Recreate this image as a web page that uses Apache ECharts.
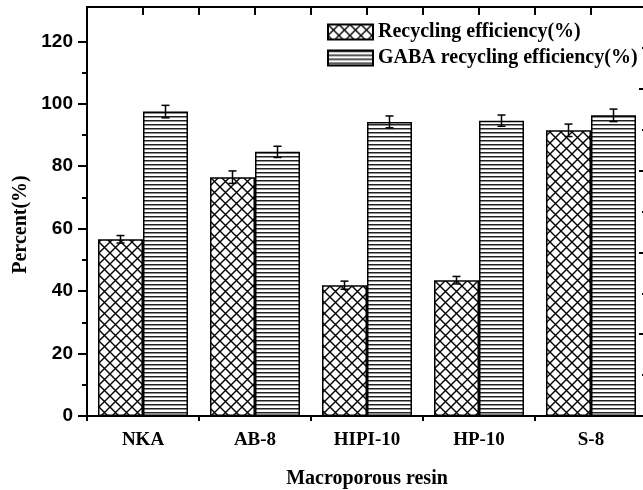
<!DOCTYPE html>
<html>
<head>
<meta charset="utf-8">
<script src="https://cdn.jsdelivr.net/npm/echarts@6/dist/echarts.min.js"></script>
<style>
html, body { margin: 0; padding: 0; background: #fff; }
#chart { width: 643px; height: 490px; }
</style>
</head>
<body>
<div id="chart"></div>
<script>
var resins = ['NKA', 'AB-8', 'HIPI-10', 'HP-10', 'S-8']
var recycling = [56.6, 76.5, 41.9, 43.5, 91.5]
var recyclingErr = [1.2, 2.0, 1.3, 1.2, 2.0]
var gaba = [97.5, 84.6, 94.2, 94.6, 96.3]
var gabaErr = [2.0, 1.8, 1.9, 1.8, 2.0]
var yTicks = [0, 20, 40, 60, 80, 100, 120]
var yMinorTicks = [10, 30, 50, 70, 90, 110]
// top frame has a tick every half category
var halfSlots = ['h1', 'h2', 'h3', 'h4', 'h5', 'h6', 'h7', 'h8', 'h9', 'h10']

var BAR_W = 45
var serif = '"Liberation Serif", "Times New Roman", serif'
var sans = '"Liberation Sans", Arial, sans-serif'

// fill textures for the two series
function crossPattern() {
    var c = document.createElement('canvas')
    c.width = 11; c.height = 11
    var g = c.getContext('2d')
    g.fillStyle = '#fff'
    g.fillRect(0, 0, 11, 11)
    g.strokeStyle = '#000'
    g.lineWidth = 1.4
    g.beginPath()
    g.moveTo(-1, -1); g.lineTo(12, 12)
    g.moveTo(12, -1); g.lineTo(-1, 12)
    g.stroke()
    return c
}
function linePattern() {
    var c = document.createElement('canvas')
    c.width = 4; c.height = 4
    var g = c.getContext('2d')
    g.fillStyle = '#fff'
    g.fillRect(0, 0, 4, 4)
    g.fillStyle = '#222'
    g.fillRect(0, 0, 4, 1.5)
    return c
}

function errorBars(values, errs, shift) {
    return {
        type: 'custom',
        xAxisIndex: 0,
        yAxisIndex: 0,
        z: 10,
        silent: true,
        encode: {x: 0, y: 1},
        data: values.map(function (v, i) { return [i, v, errs[i]] }),
        renderItem: function (params, api) {
            var i = api.value(0), v = api.value(1), e = api.value(2)
            var hi = api.coord([i, v + e])
            var lo = api.coord([i, v - e])
            var x = hi[0] + shift
            var cap = 4
            var st = {stroke: '#000', lineWidth: 1.5}
            return {
                type: 'group',
                children: [
                    {type: 'line', shape: {x1: x, y1: hi[1], x2: x, y2: lo[1]}, style: st},
                    {type: 'line', shape: {x1: x - cap, y1: hi[1], x2: x + cap, y2: hi[1]}, style: st},
                    {type: 'line', shape: {x1: x - cap, y1: lo[1], x2: x + cap, y2: lo[1]}, style: st}
                ]
            }
        }
    }
}

var chart = echarts.init(document.getElementById('chart'))
var option = {
    backgroundColor: '#fff',
    animation: false,
    grid: {left: 87, right: -4, top: 7, bottom: 74, outerBoundsMode: 'none'},
    legend: {
        orient: 'vertical',
        left: 327,
        top: 22,
        padding: 0,
        icon: 'rect',
        itemWidth: 45,
        itemHeight: 15,
        itemGap: 6,
        selectedMode: false,
        data: ['Recycling efficiency(%)', 'GABA recycling efficiency(%)'],
        textStyle: {fontFamily: serif, fontWeight: 'bold', fontSize: 20, color: '#000', lineHeight: 20}
    },
    xAxis: [{
        type: 'category',
        position: 'bottom',
        data: resins,
        name: 'Macroporous resin',
        nameLocation: 'middle',
        nameGap: 53,
        nameTextStyle: {fontFamily: serif, fontWeight: 'bold', fontSize: 20, color: '#000'},
        axisLine: {onZero: false, lineStyle: {color: '#000', width: 2}},
        axisTick: {alignWithLabel: true, length: 8, lineStyle: {color: '#000', width: 2}},
        axisLabel: {fontFamily: serif, fontWeight: 'bold', fontSize: 19, color: '#000', margin: 15}
    }, {
        type: 'category',
        position: 'bottom',
        data: resins,
        axisLine: {show: false, onZero: false},
        axisTick: {show: true, length: 5, lineStyle: {color: '#000', width: 2}},
        axisLabel: {show: false}
    }, {
        type: 'category',
        position: 'top',
        data: halfSlots,
        axisLine: {show: true, onZero: false, lineStyle: {color: '#000', width: 2}},
        axisTick: {show: true, inside: true, length: 8, lineStyle: {color: '#000', width: 2}},
        axisLabel: {show: false}
    }],
    yAxis: [{
        type: 'value',
        position: 'left',
        min: 0,
        max: 131,
        name: 'Percent(%)',
        nameLocation: 'middle',
        nameGap: 54,
        nameTextStyle: {fontFamily: serif, fontWeight: 'bold', fontSize: 20, color: '#000', padding: [0, 26, 0, 0]},
        splitLine: {show: false},
        axisLine: {show: true, onZero: false, lineStyle: {color: '#000', width: 2}},
        axisTick: {show: true, length: 9, customValues: yTicks, lineStyle: {color: '#000', width: 2}},
        axisLabel: {customValues: yTicks, fontFamily: sans, fontWeight: 'bold', fontSize: 19, color: '#000', margin: 14}
    }, {
        type: 'value',
        position: 'left',
        min: 0,
        max: 131,
        splitLine: {show: false},
        axisLine: {show: false, onZero: false},
        axisTick: {show: true, length: 5, customValues: yMinorTicks, lineStyle: {color: '#000', width: 2}},
        axisLabel: {show: false}
    }, {
        type: 'value',
        position: 'right',
        min: 0,
        max: 100,
        interval: 20,
        splitLine: {show: false},
        axisLine: {show: true, onZero: false, lineStyle: {color: '#000', width: 2}},
        axisTick: {show: true, inside: true, length: 8, lineStyle: {color: '#000', width: 2}},
        minorTick: {show: true, splitNumber: 2, length: 5, lineStyle: {color: '#000', width: 2}},
        axisLabel: {show: false}
    }],
    series: [{
        name: 'Recycling efficiency(%)',
        type: 'bar',
        barWidth: BAR_W,
        barGap: 0,
        data: recycling,
        itemStyle: {color: {image: crossPattern(), repeat: 'repeat'}, borderColor: '#000', borderWidth: 1.5}
    }, {
        name: 'GABA recycling efficiency(%)',
        type: 'bar',
        barWidth: BAR_W,
        barGap: 0,
        data: gaba,
        itemStyle: {color: {image: linePattern(), repeat: 'repeat'}, borderColor: '#000', borderWidth: 1.5}
    },
    errorBars(recycling, recyclingErr, -BAR_W / 2),
    errorBars(gaba, gabaErr, BAR_W / 2)
    ]
};
chart.setOption(option);
</script>
</body>
</html>
